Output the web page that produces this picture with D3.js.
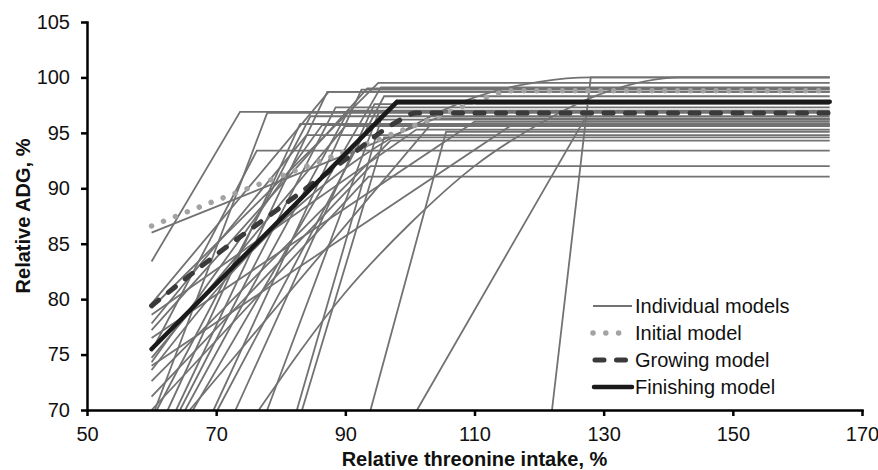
<!DOCTYPE html>
<html lang="en">
<head>
<meta charset="UTF-8">
<title>Relative ADG vs threonine intake</title>
<script src="https://cdn.jsdelivr.net/npm/d3@7/dist/d3.min.js"></script>
<style>
    body { margin: 0; background: #fff; }
    svg { font-family: "Liberation Sans", Arial, sans-serif; }
    .axis path, .axis line { stroke: #000; stroke-width: 2.5; fill: none; }
    .axis text { font-size: 20px; fill: #111; }
    .title { font-size: 20px; font-weight: bold; fill: #111; }
    .legend text { font-size: 20px; fill: #111; }
</style>
</head>
<body>
<svg id="vis" width="878" height="470"></svg>
<script>
    // axis ticks
    const xTicks = [50, 70, 90, 110, 130, 150, 170];
    const yTicks = [70, 75, 80, 85, 90, 95, 100, 105];

    // individual broken-line models, [intake %, ADG %]
    const individualModels = [
        [[60, 83.4], [73.7, 96.9], [165, 96.9]],
        [[60.5, 70], [77.9, 96.8], [165, 96.8]],
        [[60, 75.3], [76.3, 93.4], [165, 93.4]],
        [[60, 86.0], [104, 96.3], [165, 96.3]],
        [[60, 79.6], [87.4, 98.7], [165, 98.7]],
        [[60, 79.2], [95.1, 99.5], [165, 99.5]],
        [[60, 77.2], [93.4, 99.0], [165, 99.0]],
        [[60, 74.7], [90, 95.6], [165, 95.6]],
        [[60, 74.3], [86.4, 95.7], [165, 95.7]],
        [[60, 71.2], [93.9, 92.0], [165, 92.0]],
        [[60, 70.0], [93.6, 91.05], [165, 91.05]],
        [[60, 76.5], [110, 96.0], [165, 96.0]],
        [[60, 78.6], [101, 95.3], [165, 95.3]],
        [[60, 72.6], [97, 94.3], [165, 94.3]],
        [[60, 77.8], [84, 94.8], [165, 94.8]],
        [[60, 74.0], [116, 95.8], [165, 95.8]],
        [[93.9, 70], [105.6, 95.1], [165, 95.1]],
        [[101.1, 70], [127, 96.2], [165, 96.2]],
        [[122, 70], [128, 100], [165, 100]],
        [[60.8, 70], [84.6, 96.5], [165, 96.5]],
        [[62.5, 70], [83, 95.8], [165, 95.8]],
        [[63.8, 70], [87.2, 98.7], [165, 98.7]],
        [[64.4, 70], [88.5, 97.3], [165, 97.3]],
        [[65.2, 70], [90.5, 97.0], [165, 97.0]],
        [[65.9, 70], [103, 95.6], [165, 95.6]],
        [[66.4, 70], [95.5, 99.1], [165, 99.1]],
        [[69.6, 70], [92.5, 98.9], [165, 98.9]],
        [[70.2, 70], [96, 98.3], [165, 98.3]],
        [[73, 70], [94.5, 97.6], [165, 97.6]],
        [[77.9, 70], [95.2, 96.9], [165, 96.9]],
        [[82.5, 70], [95.5, 96.2], [165, 96.2]],
        [[83.3, 70], [96, 94.6], [165, 94.6]]
    ];

    // individual curvilinear models
    const curvedModels = [
        [[60, 73.6], [70, 80.8], [80, 86.9], [90, 91.8], [100, 95.5], [110, 98.2], [120, 99.6], [128, 100], [165, 100]],
        [[76.6, 70], [90, 80.6], [100, 86.8], [110, 92.0], [120, 95.8], [130, 98.6], [142, 100], [165, 100]]
    ];

    const initialModel = [[60, 86.6], [70, 88.9], [80, 91.1], [90, 93.3], [100, 95.5], [105, 96.6], [110, 97.8], [116, 98.8], [165, 98.8]];
    const growingModel = [[60, 79.4], [70, 84.0], [80, 88.3], [90, 92.6], [98, 96.0], [101, 96.8], [165, 96.8]];
    const finishingModel = [[60, 75.5], [98, 97.8], [165, 97.8]];

    const legendLabels = ["Individual models", "Initial model", "Growing model", "Finishing model"];

    let svg = d3.select("#vis");
    let width = +svg.attr("width");
    let height = +svg.attr("height");
    let margin = { top: 22, right: 16, bottom: 60, left: 87 };

    let x = d3.scaleLinear().domain([50, 170]).range([margin.left, width - margin.right]);
    let y = d3.scaleLinear().domain([70, 105]).range([height - margin.bottom, margin.top]);

    let straight = d3.line().x(d => x(d[0])).y(d => y(d[1]));
    let smooth = d3.line().x(d => x(d[0])).y(d => y(d[1])).curve(d3.curveMonotoneX);

    const grey = "#727272";

    svg.append("g").selectAll("path")
        .data(individualModels)
        .join("path")
        .attr("d", straight)
        .attr("fill", "none").attr("stroke", grey).attr("stroke-width", 1.8);

    svg.append("g").selectAll("path")
        .data(curvedModels)
        .join("path")
        .attr("d", smooth)
        .attr("fill", "none").attr("stroke", grey).attr("stroke-width", 1.8);

    const styles = {
        individual: { stroke: grey, width: 1.8, dash: null, cap: "butt", x1: 0, x2: 39 },
        initial: { stroke: "#a3a3a3", width: 5.5, dash: "0.01,12.8", cap: "round", x1: 0, x2: 26 },
        growing: { stroke: "#3a3a3a", width: 5, dash: "9,12.5", cap: "round", x1: 2, x2: 38 },
        finishing: { stroke: "#1a1a1a", width: 4.5, dash: null, cap: "round", x1: 1, x2: 39 }
    };

    function drawModel(data, st, gen) {
        svg.append("path")
            .datum(data)
            .attr("d", gen)
            .attr("fill", "none")
            .attr("stroke", st.stroke)
            .attr("stroke-width", st.width)
            .attr("stroke-dasharray", st.dash)
            .attr("stroke-linecap", st.cap);
    }
    drawModel(initialModel, styles.initial, smooth);
    drawModel(growingModel, styles.growing, smooth);
    drawModel(finishingModel, styles.finishing, straight);

    // axes
    svg.append("g")
        .attr("class", "axis")
        .attr("transform", "translate(0," + (height - margin.bottom) + ")")
        .call(d3.axisBottom(x).tickValues(xTicks).tickSize(6).tickSizeOuter(0).tickPadding(11));

    svg.append("g")
        .attr("class", "axis")
        .attr("transform", "translate(" + margin.left + ",0)")
        .call(d3.axisLeft(y).tickValues(yTicks).tickSize(6).tickSizeOuter(0).tickPadding(11));

    svg.selectAll(".axis .domain").attr("stroke-linecap", "square");

    svg.append("text")
        .attr("class", "title")
        .attr("x", (margin.left + width - margin.right) / 2)
        .attr("y", 466)
        .attr("text-anchor", "middle")
        .text("Relative threonine intake, %");

    svg.append("text")
        .attr("class", "title")
        .attr("transform", "translate(30," + (margin.top + height - margin.bottom) / 2 + ") rotate(-90)")
        .attr("text-anchor", "middle")
        .text("Relative ADG, %");

    // legend
    const legendStyles = [styles.individual, styles.initial, styles.growing, styles.finishing];
    let legend = svg.append("g").attr("class", "legend");
    legendLabels.forEach(function(label, i) {
        let row = legend.append("g").attr("transform", "translate(593," + (306 + i * 27) + ")");
        let st = legendStyles[i];
        row.append("line")
            .attr("x1", st.x1).attr("x2", st.x2).attr("y1", 0).attr("y2", 0)
            .attr("stroke", st.stroke)
            .attr("stroke-width", st.width)
            .attr("stroke-dasharray", st.dash)
            .attr("stroke-linecap", st.cap);
        row.append("text").attr("x", 42).attr("y", 7).text(label);
    });
</script>
</body>
</html>
